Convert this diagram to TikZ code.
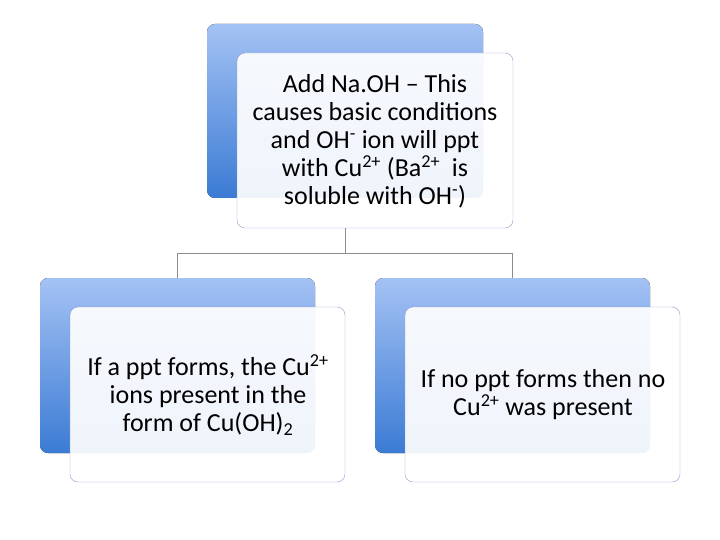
\documentclass[tikz,border=0pt]{standalone}
\usepackage{fontspec}
\setmainfont{Carlito}
\begin{document}
\begin{tikzpicture}[x=1pt,y=-1pt]
\definecolor{btop}{HTML}{A4C2F4}\definecolor{bbot}{HTML}{3B7BD4}
\tikzset{bluebox/.style={rounded corners=8pt,top color=btop,bottom color=bbot,draw=none},
  whitebox/.style={rounded corners=8pt,fill=white,fill opacity=0.92,draw=blue!50!black!40,text opacity=1},
  boxtext/.style={align=center,font=\fontsize{26}{28}\selectfont,inner sep=0pt},
  conn/.style={draw=black!45,line width=0.8pt}}
\useasboundingbox (0,0) rectangle (720,540);
\fill[bluebox] (207,24) rectangle (483,198);
\fill[bluebox] (40,278) rectangle (315,453);
\fill[bluebox] (375,278) rectangle (650,453);
\draw[whitebox] (237,53) rectangle (513,228);
\draw[whitebox] (70,307) rectangle (345,482);
\draw[whitebox] (405,307) rectangle (680,482);
\node[boxtext] (top) at (375,141)
 {Add Na.OH -- This\\causes basic conditions\\and OH\textsuperscript{-} ion will ppt\\with Cu\textsuperscript{2+} (Ba\textsuperscript{2+}\ \ is\\soluble with OH\textsuperscript{-})};
\node[boxtext] (l) at (208,395)
 {If a ppt forms, the Cu\textsuperscript{2+}\\ions present in the\\form of Cu(OH)\textsubscript{2}};
\node[boxtext] (r) at (543,395)
 {If no ppt forms then no\\Cu\textsuperscript{2+} was present};
\coordinate (tb) at (345,228);
\coordinate (m) at (345,253);
\coordinate (lt) at (177,278);
\coordinate (rt) at (512,278);
\draw[conn] (tb) -- (m);
\draw[conn] (lt) -- (lt|-m) -- (rt|-m) -- (rt);
\end{tikzpicture}
\end{document}
